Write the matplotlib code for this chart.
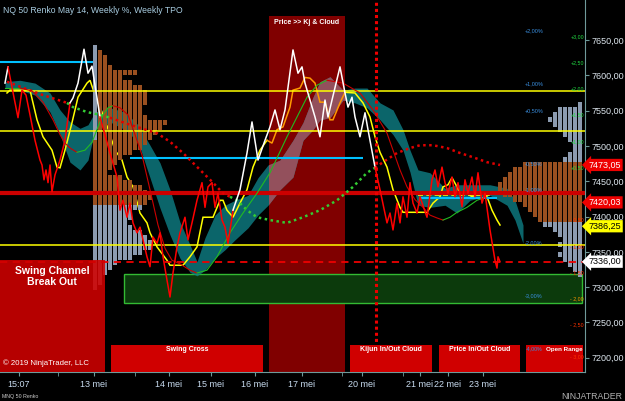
import matplotlib
matplotlib.use('Agg')
import matplotlib.pyplot as plt
from matplotlib.patches import Rectangle
import numpy as np

plt.rcParams['font.family'] = ['Liberation Sans', 'DejaVu Sans']

# ---------------- data ----------------
price_x = [5, 8, 12, 18, 22, 26, 30, 35, 40, 42, 44, 46, 48, 50, 52, 55, 60, 65, 70,
           73, 78, 84, 88, 92, 100,
           110, 117, 120, 123, 127, 130, 133, 137, 140, 143, 147, 150, 153, 157, 160, 163, 167, 170,
           173, 177, 180, 185, 188, 192, 197, 202, 205, 208, 212, 215, 218, 222, 225, 228, 232, 233,
           240, 247, 252, 258, 265, 270, 275, 280, 285, 293, 298, 302, 305, 310, 315, 320, 325, 328,
           332, 340, 345, 348, 352, 355, 360, 365, 368, 375,
           380, 387, 390, 393, 397, 400, 403, 407, 410, 413, 417, 420, 427, 432, 435, 438, 442, 445,
           448, 452, 455, 458, 462, 465, 468, 472, 475, 478, 482, 485, 490, 495, 497, 498, 500]
price_y = [7589, 7612, 7583, 7540, 7579, 7572, 7544, 7508, 7480, 7473, 7452, 7466, 7448, 7473, 7435, 7459, 7480, 7508, 7561,
           7568, 7589, 7637, 7603, 7613, 7541,
           7490, 7456, 7409, 7423, 7399, 7419, 7391, 7377, 7385, 7367, 7343, 7329, 7371, 7362, 7377, 7343, 7310, 7286,
           7320, 7357, 7377, 7399, 7367, 7391, 7423, 7448, 7413, 7442, 7448, 7413, 7433, 7395, 7385, 7362, 7399, 7409,
           7438, 7490, 7534, 7480, 7508, 7527, 7551, 7523, 7551, 7636, 7603, 7612, 7589, 7565, 7541, 7513, 7565, 7541,
           7565, 7612, 7575, 7555, 7569, 7541, 7513, 7547, 7523, 7470,
           7438, 7391, 7405, 7381, 7419, 7391, 7428, 7399, 7448, 7419, 7405, 7428, 7399, 7452, 7466, 7442, 7470, 7448,
           7433, 7456, 7428, 7448, 7414, 7452, 7433, 7456, 7428, 7462, 7419, 7433, 7381, 7338, 7327, 7343, 7336]
price_white_spans = [(0, 8), (70, 100), (233, 375)]

fast_x = [7, 10, 30, 33, 37, 43, 52, 57, 60, 65, 72, 78, 87, 90, 95, 105, 115, 122, 127, 133, 140, 147, 150,
          157, 167, 170, 183, 190, 197, 203, 213, 220, 223, 227, 233, 240, 247, 253, 260, 267, 272, 277, 283,
          290, 293, 300, 305, 310, 315, 320, 325, 330, 333, 340, 345, 355, 363, 370, 375, 380, 387, 393, 400,
          403, 427, 433, 440, 443, 448, 452, 457, 460, 465, 472, 482, 487, 492, 497, 500]
fast_y = [7575, 7579, 7579, 7561, 7537, 7513, 7494, 7470, 7469, 7494, 7533, 7569, 7589, 7593, 7572, 7537, 7494,
          7480, 7456, 7442, 7405, 7391, 7377, 7357, 7338, 7331, 7331, 7343, 7357, 7399, 7399, 7423, 7423, 7409,
          7399, 7419, 7438, 7470, 7494, 7508, 7504, 7523, 7527, 7555, 7579, 7582, 7597, 7596, 7589, 7562, 7562,
          7537, 7537, 7561, 7576, 7575, 7561, 7541, 7513, 7491, 7470, 7438, 7413, 7406, 7406, 7419, 7428, 7442,
          7445, 7455, 7442, 7433, 7435, 7428, 7435, 7428, 7409, 7395, 7388]
fast_orange_span = (268, 346)

slow_x = [5, 20, 32, 43, 53, 60, 65, 70, 77, 85, 92, 98, 103, 108, 113, 120, 128, 135, 142, 150, 158, 165, 172,
          180, 190, 197, 207, 217, 230, 243, 257, 270, 287, 297, 307, 317, 327, 343, 360, 373, 387, 393, 400,
          407, 415, 423, 430, 437, 443, 450, 457, 467, 477, 483]
slow_y = [7582, 7582, 7578, 7562, 7537, 7516, 7504, 7497, 7491, 7494, 7505, 7527, 7544, 7554, 7557, 7554, 7544,
          7516, 7487, 7438, 7388, 7355, 7338, 7333, 7324, 7320, 7324, 7343, 7377, 7405, 7433, 7462, 7513, 7541,
          7569, 7586, 7593, 7589, 7575, 7551, 7518, 7494, 7466, 7442, 7424, 7413, 7402, 7398, 7395, 7399, 7406,
          7413, 7423, 7426]

dot_x = [7, 20, 43, 67, 73, 87, 100, 110, 130, 157, 170, 183, 193, 203, 213, 223, 230, 237, 247, 257, 270,
         287, 303, 320, 337, 353, 367, 375, 383, 397, 410, 420, 433, 447, 460, 473, 487, 500]
dot_y = [7591, 7584, 7572, 7561, 7555, 7548, 7544, 7540, 7530, 7518, 7506, 7490, 7476, 7462, 7448, 7433, 7428,
         7423, 7409, 7399, 7395, 7391, 7399, 7409, 7423, 7442, 7462, 7469, 7477, 7490, 7497, 7501, 7501, 7497,
         7490, 7484, 7477, 7473]
dot_green_spans = [(70, 105), (233, 378)]

cloud_x = [5, 20, 35, 50, 60, 70, 80, 88, 95, 110, 125, 138, 150, 160, 170, 180, 190, 197, 205, 215, 225, 235,
           248, 258, 268, 280, 293, 303, 313, 320, 330, 343, 355, 367, 380, 393, 403, 410, 418, 430, 445, 457,
           470, 490, 507, 515, 523]
cloud_hi = [7591, 7593, 7589, 7575, 7551, 7534, 7525, 7530, 7548, 7554, 7548, 7530, 7501, 7476, 7438, 7392,
            7360, 7336, 7370, 7402, 7416, 7423, 7430, 7455, 7473, 7480, 7508, 7533, 7569, 7591, 7598, 7579, 7582,
            7582, 7561, 7551, 7523, 7494, 7466, 7462, 7440, 7445, 7445, 7445, 7440, 7423, 7388]
cloud_lo = [7582, 7579, 7572, 7548, 7516, 7477, 7466, 7480, 7523, 7534, 7523, 7506, 7455, 7412, 7374, 7341,
            7321, 7316, 7324, 7341, 7353, 7367, 7384, 7402, 7416, 7438, 7456, 7508, 7523, 7537, 7540, 7565, 7561,
            7554, 7537, 7516, 7494, 7463, 7416, 7413, 7416, 7405, 7423, 7430, 7416, 7395, 7362]

tpo_tick = 7.08
tpo_left_top = 7640.0
tpo_left_counts = [1, 2, 3, 3, 4, 9, 6, 8, 10, 11, 11, 11, 10, 10, 11, 15, 14, 13, 12, 11, 10, 8, 6, 5, 4,
                   3, 6, 8, 10, 11, 12, 11, 10, 8, 8, 7, 8, 10, 11, 12, 12, 10, 8, 5, 4, 3, 2, 2, 1]
tpo_left_va_low = 7416
tpo_right_top = 7558.0
tpo_right_counts = [1, 5, 6, 7, 6, 5, 4, 3, 2, 2, 3, 4, 12, 14, 15, 16, 17, 17, 16, 14, 12, 11, 10, 9,
                    8, 6, 5, 4, 5, 4, 5, 4, 3, 2, 1]
tpo_right_va = (7392, 7476)

levels_yellow = [7578, 7521, 7360]
level_cyan = [(7619, 0, 93), (7483, 130, 363), (7426, 420, 497)]
level_red = 7433
level_red_dash = 7336
green_zone = (7277.5, 7318.5)

marker_prices = [7473.05, 7420.03, 7386.25, 7336.00]
marker_face = ['#ee0000', '#ee0000', '#ffff00', '#ffffff']
marker_text = ['white', 'white', 'black', 'black']

weekly_ref = 7512.6
weekly_pcts = [2.0, 1.0, 0.5, -0.5, -1.0, -2.0, -3.0, -4.0]
daily_ref = 7432.0
daily_pcts = [3.0, 2.5, 2.0, 1.5, 1.0, 0.5, -0.5, -1.0, -1.5, -2.0, -2.5, -3.0]

date_pos = [19, 94, 169, 211, 255, 302, 362, 420, 448, 483]
date_labels = ['15:07', '13 mei', '14 mei', '15 mei', '16 mei', '17 mei', '20 mei', '21 mei', '22 mei', '23 mei']
minor_pos = [58, 135, 342, 403]

signal_boxes = [('Swing Cross', 111, 263), ('Kijun In/Out Cloud', 350, 432),
                ('Price In/Out Cloud', 439, 520), ('Open Range', 526, 583)]
kj_region = (269, 345)
vline_x = 376

# ---------------- figure ----------------
fig = plt.figure(figsize=(6.25, 4.01), dpi=100, facecolor='black')
ax = fig.add_axes([0, 29 / 401, 585 / 625, 372 / 401])
ax.set_facecolor('black')
YMIN, YMAX = 7179.8, 7706.7
ax.set_xlim(0, 585)
ax.set_ylim(YMIN, YMAX)


def in_spans(v, spans):
    return any(a <= v <= b for a, b in spans)


def plot_runs(x, y, cols, **kw):
    x = np.asarray(x, float)
    y = np.asarray(y, float)
    start = 0
    n = len(cols)
    for i in range(1, n + 1):
        if i == n or cols[i] != cols[start]:
            ax.plot(x[start:i + 1], y[start:i + 1], color=cols[start], **kw)
            start = i


# dark red region
region = Rectangle((kj_region[0], YMIN), kj_region[1] - kj_region[0], 7684 - YMIN,
                   facecolor='#800000', edgecolor='none', zorder=1)
ax.add_patch(region)
ax.text(sum(kj_region) / 2, 7675, 'Price >> Kj & Cloud', color='white', fontsize=5,
        fontweight='bold', ha='center', va='center', zorder=9)

# green zone
ax.add_patch(Rectangle((124, green_zone[0]), 582 - 124, green_zone[1] - green_zone[0],
                       facecolor='#0c3a0c', edgecolor='#33bb33', lw=1.0, zorder=1))

# cloud
ax.fill_between(cloud_x, cloud_lo, cloud_hi, color='#0f7f86', alpha=0.8, lw=0, zorder=2)
clip_rect = Rectangle((kj_region[0], YMIN), kj_region[1] - kj_region[0], YMAX - YMIN,
                      transform=ax.transData, facecolor='none', edgecolor='none')
pc = ax.fill_between(cloud_x, cloud_lo, cloud_hi, color='#93505c', lw=0, zorder=2.1)
pc.set_clip_path(clip_rect)

# fast line (yellow / orange) below profile
fcols = ['#ff9900' if fast_orange_span[0] <= (fast_x[i] + fast_x[i + 1]) / 2 <= fast_orange_span[1]
         else '#ffff00' for i in range(len(fast_x) - 1)]
plot_runs(fast_x, fast_y, fcols, lw=1.1, zorder=2.5, solid_joinstyle='miter')

# TPO profiles
BROWN = '#9a5020'
GREY = '#8c9bb0'
for i, n in enumerate(tpo_left_counts):
    c = tpo_left_top - i * tpo_tick
    for j in range(n):
        col = BROWN if c >= tpo_left_va_low else GREY
        if j == 0 and c >= 7510:
            col = GREY
        ax.add_patch(Rectangle((93 + j * 5, c - tpo_tick / 2), 4, tpo_tick,
                               facecolor=col, edgecolor='none', zorder=3))
for i, n in enumerate(tpo_right_counts):
    c = tpo_right_top - i * tpo_tick
    col = BROWN if tpo_right_va[0] < c <= tpo_right_va[1] else GREY
    for j in range(n):
        ax.add_patch(Rectangle((582 - (j + 1) * 5 + 1, c - tpo_tick / 2), 4, tpo_tick,
                               facecolor=col, edgecolor='none', zorder=3))

# horizontal levels
for lv in levels_yellow:
    ax.axhline(lv, color='#ffff00', lw=1.1, zorder=4)
for lv, a, b in level_cyan:
    ax.hlines(lv, a, b, color='#00c0ff', lw=1.5, zorder=4)
ax.hlines(7430, 418, 490, color='#ffff00', lw=1.2, ls=(0, (3, 2)), zorder=4)
ax.axhline(level_red, color='#cc0000', lw=3, zorder=4)
ax.axhline(level_red_dash, color='#ee0000', lw=1.3, ls=(0, (4, 3)), zorder=4)

# dotted curve
dcols = ['#33cc33' if in_spans((dot_x[i] + dot_x[i + 1]) / 2, dot_green_spans) else '#e00000'
         for i in range(len(dot_x) - 1)]
plot_runs(dot_x, dot_y, dcols, lw=1.8, ls=(0, (1, 1.4)), zorder=5)

# slow line (green rising / red falling)
scols = ['#22bb22' if slow_y[i + 1] >= slow_y[i] else '#cc0000' for i in range(len(slow_x) - 1)]
plot_runs(slow_x, slow_y, scols, lw=0.8, zorder=5)

# price line
pcols = ['#ffffff' if in_spans((price_x[i] + price_x[i + 1]) / 2, price_white_spans) else '#ff0000'
         for i in range(len(price_x) - 1)]
plot_runs(price_x, price_y, pcols, lw=1.1, zorder=7)

# vertical dotted
ax.axvline(vline_x, color='#ee0000', lw=2.2, ls=(0, (1, 1)), zorder=6)

# signal boxes
sc = Rectangle((0, YMIN), 105, 7339 - YMIN, facecolor='#d00000', edgecolor='none', alpha=0.88, zorder=8)
ax.add_patch(sc)
ax.text(52, 7315, 'Swing Channel\nBreak Out', color='white', fontsize=7.5, fontweight='bold',
        ha='center', va='center', linespacing=1.1, zorder=9)
for lab, a, b in signal_boxes:
    ax.add_patch(Rectangle((a, YMIN), b - a, 7218 - YMIN, facecolor='#d00000', edgecolor='none', zorder=8))
    if lab == 'Open Range':
        ax.text(564, 7211, lab, color='white', fontsize=4.5, fontweight='bold',
                ha='center', va='center', zorder=9)
    else:
        ax.text((a + b) / 2, 7211, lab, color='white', fontsize=5, fontweight='bold',
                ha='center', va='center', zorder=9)

ax.text(3, 7193, '\u00a9 2019 NinjaTrader, LLC', color='white', fontsize=5.6, ha='left', va='center', zorder=9)

# percent labels
for p in weekly_pcts:
    v = weekly_ref * (1 + p / 100)
    s = ('+' if p > 0 else '-') + f'{abs(p):.2f}'.replace('.', ',') + '%'
    if p == -4.0:
        ax.text(525.5, v, s, color='#3a8fe0', fontsize=3.8, ha='left', va='center', zorder=9)
    else:
        ax.text(534, v, s, color='#3a8fe0', fontsize=4, ha='center', va='center', zorder=9)
for p in daily_pcts:
    v = daily_ref * (1 + p / 100)
    s = ('+' if p > 0 else '- ') + f'{abs(p):.2f}'.replace('.', ',')
    if p > 0:
        col = '#22dd44'
    elif p == -2.0:
        col = '#ff9900'
    else:
        col = '#ff3300'
    yy = v if p != -3.0 else v - 7
    ax.text(584, yy, s, color=col, fontsize=3.8, ha='right', va='center', zorder=9)

# axes styling
for s in ['top', 'left']:
    ax.spines[s].set_visible(False)
for s in ['bottom', 'right']:
    ax.spines[s].set_color('#6f9a9a')
ax.yaxis.tick_right()
yt = list(range(7200, 7651, 50))
ax.set_yticks(yt)
ax.set_yticklabels([f'{v:.2f}'.replace('.', ',') for v in yt])
ax.tick_params(axis='y', colors='#6f9a9a', labelcolor='#dde6ee', labelsize=6.5, length=3, pad=2)
ax.set_xticks(date_pos)
ax.set_xticklabels(date_labels)
ax.set_xticks(minor_pos, minor=True)
ax.tick_params(axis='x', which='both', colors='#6f9a9a', labelcolor='#c8dcf0', labelsize=6.5,
               length=3, pad=3)

# price markers on the right axis
for v, fc, tc in zip(marker_prices, marker_face, marker_text):
    ax.text(1.006, v, f'{v:.2f}'.replace('.', ','), transform=ax.get_yaxis_transform(),
            fontsize=6.5, color=tc, ha='left', va='center', zorder=10, clip_on=False,
            bbox=dict(boxstyle='larrow,pad=0.18', fc=fc, ec='none'))

fig.text(0.005, 0.985, 'NQ 50 Renko May 14, Weekly %, Weekly TPO', color='#a8cce0', fontsize=6.2,
         ha='left', va='top')
fig.text(0.004, 0.012, 'MNQ 50 Renko', color='#cccccc', fontsize=3.8, ha='left', va='center')
fig.text(0.995, 0.012, 'NINJATRADER', color='#b0b0b0', fontsize=6.3, ha='right', va='center')

fig.savefig('out.png', dpi=100, facecolor='black')
